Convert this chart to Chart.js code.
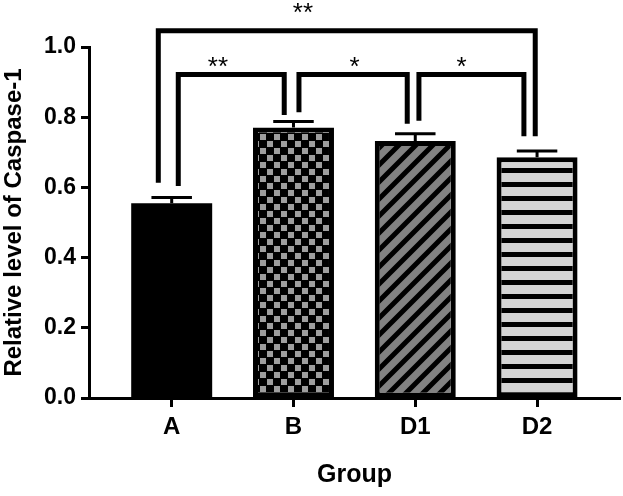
<!DOCTYPE html>
<html>
<head>
<meta charset="utf-8">
<script src="https://cdn.jsdelivr.net/npm/chart.js@4"></script>
<style>
  body { margin: 0; background: #fff; }
  #wrap { width: 623px; height: 496px; }
</style>
</head>
<body>
<div id="wrap"><canvas id="caspChart"></canvas></div>
<script>
// data
const groups = ["A", "B", "D1", "D2"];
const means = [0.555, 0.771, 0.732, 0.686];
const sems = [0.016, 0.017, 0.021, 0.018];
const yTicks = [0, 0.2, 0.4, 0.6, 0.8, 1.0];

// significance brackets (x in group index units, y in axis units)
const sigLeft = [-0.11, 0.054, 1.045, 2.03];
const sigRight = [2.985, 0.924, 1.934, 2.892];
const sigTop = [1.046, 0.922, 0.922, 0.922];
const sigLeftEnd = [0.613, 0.604, 0.814, 0.790];
const sigRightEnd = [0.746, 0.806, 0.781, 0.746];
const sigText = ["**", "**", "*", "*"];
const sigTextX = [1.078, 0.38, 1.501, 2.381];
const sigTextY = [1.073, 0.921, 0.921, 0.921];

const FONT = "'Liberation Sans', Arial, sans-serif";

function makeTile(w, h, draw) {
  const c = document.createElement("canvas");
  c.width = w; c.height = h;
  draw(c.getContext("2d"), w, h);
  return c.getContext("2d").createPattern(c, "repeat");
}

const checker = makeTile(14, 14, (g) => {
  g.fillStyle = "#000"; g.fillRect(0, 0, 14, 14);
  g.fillStyle = "#9e9e9e";
  g.fillRect(1, 1, 6, 6); g.fillRect(8, 8, 6, 6);
});
const diag = makeTile(17, 17, (g, s) => {
  g.fillStyle = "#828282"; g.fillRect(0, 0, s, s);
  g.strokeStyle = "#000"; g.lineWidth = 5;
  g.beginPath();
  g.moveTo(-2, 2); g.lineTo(2, -2);
  g.moveTo(0, s); g.lineTo(s, 0);
  g.moveTo(s - 2, s + 2); g.lineTo(s + 2, s - 2);
  g.stroke();
});
const hstripe = makeTile(14, 14, (g) => {
  g.fillStyle = "#d4d4d4"; g.fillRect(0, 0, 14, 14);
  g.fillStyle = "#000"; g.fillRect(0, 0, 14, 5);
});

const errorBars = {
  id: "errorBars",
  afterDatasetsDraw(chart) {
    const ctx = chart.ctx, y = chart.scales.y;
    const meta = chart.getDatasetMeta(0);
    ctx.save();
    ctx.strokeStyle = "#000";
    ctx.lineWidth = 3;
    meta.data.forEach((bar, i) => {
      const top = y.getPixelForValue(means[i]);
      const cap = y.getPixelForValue(means[i] + sems[i]);
      const half = bar.width / 4;
      ctx.beginPath();
      ctx.moveTo(bar.x, top); ctx.lineTo(bar.x, cap);
      ctx.moveTo(bar.x - half, cap); ctx.lineTo(bar.x + half, cap);
      ctx.stroke();
    });
    ctx.restore();
  }
};

const brackets = {
  id: "brackets",
  afterDraw(chart) {
    const ctx = chart.ctx, x = chart.scales.x, y = chart.scales.y;
    ctx.save();
    ctx.strokeStyle = "#000";
    ctx.lineWidth = 5;
    ctx.lineJoin = "miter";
    sigText.forEach((t, i) => {
      const x1 = x.getPixelForValue(sigLeft[i]);
      const x2 = x.getPixelForValue(sigRight[i]);
      const yt = y.getPixelForValue(sigTop[i]);
      ctx.beginPath();
      ctx.moveTo(x1, y.getPixelForValue(sigLeftEnd[i]));
      ctx.lineTo(x1, yt);
      ctx.lineTo(x2, yt);
      ctx.lineTo(x2, y.getPixelForValue(sigRightEnd[i]));
      ctx.stroke();
      ctx.fillStyle = "#000";
      ctx.font = "26px " + FONT;
      ctx.textAlign = "center";
      ctx.textBaseline = "alphabetic";
      ctx.fillText(t, x.getPixelForValue(sigTextX[i]), y.getPixelForValue(sigTextY[i]));
    });
    ctx.restore();
  }
};

new Chart(document.getElementById("caspChart"), {
  type: "bar",
  data: {
    datasets: [{
      data: means.map((m, i) => ({ x: i, y: m })),
      backgroundColor: ["#000", checker, diag, hstripe],
      borderColor: "#000",
      borderWidth: [0, 5, 5, 5],
      borderSkipped: false,
      barPercentage: 0.665,
      categoryPercentage: 1
    }]
  },
  options: {
    responsive: true,
    maintainAspectRatio: false,
    animation: false,
    layout: { padding: { left: 0, right: 3, top: 47, bottom: 0 } },
    plugins: { legend: { display: false }, tooltip: { enabled: false } },
    scales: {
      x: {
        type: "linear",
        offset: false,
        bounds: "data",
        min: -0.679,
        max: 3.681,
        afterBuildTicks: (s) => { s.ticks = groups.map((g, i) => ({ value: i })); },
        afterFit: (s) => { s.height = 98; },
        ticks: {
          callback: (v) => groups[v],
          color: "#000",
          font: { family: FONT, size: 24, weight: "bold" },
          padding: 6,
          maxRotation: 0
        },
        grid: { offset: false, drawOnChartArea: false, tickLength: 9, tickWidth: 3, tickColor: "#000" },
        border: { color: "#000", width: 3 },
        title: {
          display: true,
          text: "Group",
          color: "#000",
          font: { family: FONT, size: 25, weight: "bold" },
          padding: { top: 0, bottom: 6 }
        }
      },
      y: {
        min: 0,
        max: 1,
        afterBuildTicks: (s) => { s.ticks = yTicks.map((v) => ({ value: v })); },
        afterFit: (s) => { s.width = 89; },
        ticks: {
          callback: (v) => v.toFixed(1),
          color: "#000",
          font: { family: FONT, size: 23, weight: "bold" },
          padding: 5
        },
        grid: { drawOnChartArea: false, tickLength: 8, tickWidth: 3, tickColor: "#000" },
        border: { color: "#000", width: 3 },
        title: {
          display: true,
          text: "Relative level of Caspase-1",
          color: "#000",
          font: { family: FONT, size: 24, weight: "bold" },
          padding: { top: 0, bottom: 0 }
        }
      }
    }
  },
  plugins: [errorBars, brackets]
});
</script>
</body>
</html>
